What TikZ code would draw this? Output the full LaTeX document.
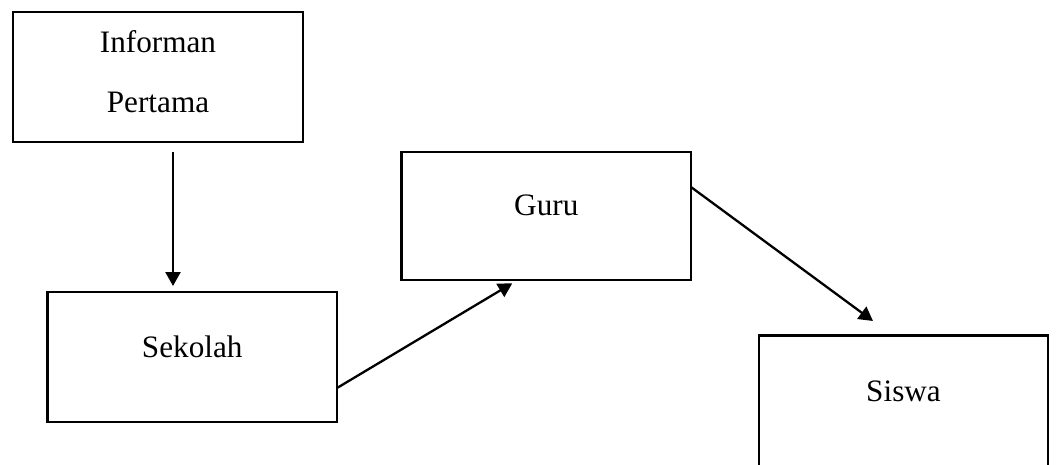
\documentclass[tikz,border=0pt]{standalone}
\usepackage{fontspec}
\setmainfont{Liberation Serif}
\usetikzlibrary{arrows.meta}
\begin{document}
\begin{tikzpicture}[x=1pt,y=-1pt,
  box/.style={draw=black,line width=2.4pt,inner sep=0pt,outer sep=0pt},
  lbl/.style={inner sep=0pt,anchor=base,font=\fontsize{31.2}{38}\selectfont},
  arr/.style={draw=black,line width=2.3pt,-{Triangle[length=14pt,width=15pt]}}]
\clip (0,0) rectangle (1056,465);
\fill[white] (0,0) rectangle (1056,465);
\node[box,minimum width=290pt,minimum height=130pt] (inf) at (158,77) {};
\node[box,minimum width=289.5pt,minimum height=130pt] (sek) at (192.25,357) {};
\node[box,minimum width=289.3pt,minimum height=128.5pt] (guru) at (546.3,216) {};
\node[box,minimum width=289pt,minimum height=131pt] (sis) at (903.5,401) {};
\node[lbl] (t1) at (158,52.7) {Informan};
\node[lbl] (t2) at (158,112.7) {Pertama};
\node[lbl] (t3) at (192.25,357) {Sekolah};
\node[lbl] (t4) at (546.3,215.5) {Guru};
\node[lbl] (t5) at (903.5,401) {Siswa};
\draw[arr] ([xshift=15pt,yshift=-10pt]inf.south) -- ([xshift=-19.25pt,yshift=6pt]sek.north);
\draw[arr] ([yshift=-31pt]sek.east) -- ([xshift=-34pt,yshift=-3pt]guru.south);
\draw[arr] ([yshift=29pt]guru.east) -- ([xshift=-30.5pt,yshift=14.5pt]sis.north);
\end{tikzpicture}
\end{document}
